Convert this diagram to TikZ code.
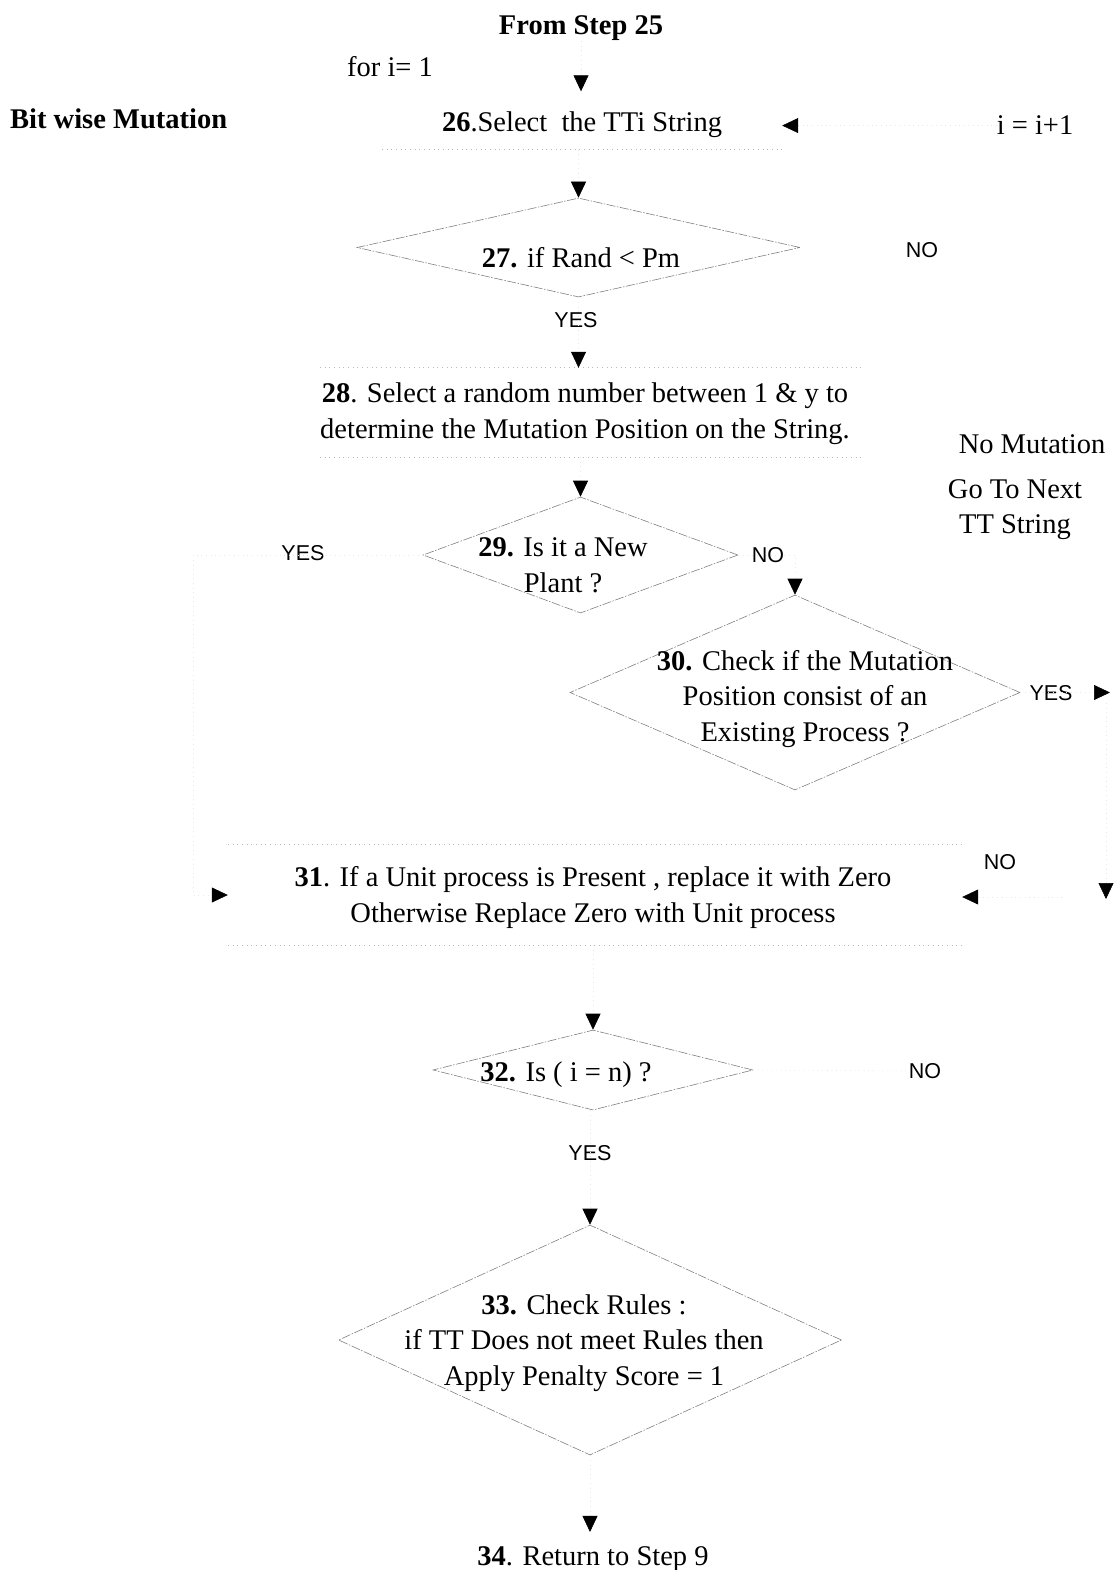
\documentclass[tikz,border=0pt]{standalone}
\usepackage{fontspec}
\setmainfont{Liberation Serif}
\newfontfamily\labelfont{Liberation Sans}
\usetikzlibrary{shapes.geometric,arrows.meta}
\begin{document}
\begin{tikzpicture}[x=1pt,y=-1pt,
  txt/.style={font=\fontsize{28.5}{35.5}\selectfont, inner sep=0pt, align=center},
  yn/.style={font=\labelfont\fontsize{21.5}{24}\selectfont, inner sep=0pt},
  box/.style={rectangle, inner sep=0pt},
  edge/.style={draw=black!28, loosely dotted, line width=0.7pt},
  decision/.style={diamond, draw=black!50, line width=0.6pt,
    dash pattern=on 9pt off 1.5pt on 1.5pt off 1.5pt, inner sep=0pt},
  link/.style={draw=black!9, loosely dotted, line width=0.6pt,
    -{Triangle[length=16pt,width=15pt,color=black]}},
  route/.style={draw=black!14, loosely dotted, line width=0.6pt}
]
\useasboundingbox (0,0) rectangle (1114,1570);

% headings
\node[txt, anchor=base] (from) at (581,35) {\bfseries From Step 25};
\node[txt, anchor=base] (init) at (390,77) {for i= 1};
\node[txt, anchor=base west] (title) at (10,129) {\bfseries Bit wise Mutation};
\node[txt, anchor=base] (iinc) at (1035,135) {i = i+1};

% process boxes (outlines only faintly visible)
\node[box, minimum width=400pt, minimum height=58pt] (b26) at (582,120.5) {};
\node[txt, anchor=base] (t26) at (582,132) {\textbf{26}.Select \ the TTi String};

\node[box, minimum width=542pt, minimum height=89pt] (b28) at (591,412.5) {};
\node[txt] (t28) at (585,413.5) {\textbf{28}. Select a random number between 1 \& y to\\determine the Mutation Position on the String.};

\node[box, minimum width=734pt, minimum height=100pt] (b31) at (595,895) {};
\node[txt] (t31) at (593,897.5) {\textbf{31}. If a Unit process is Present , replace it with Zero\\Otherwise Replace Zero with Unit process};

% decisions
\node[decision, minimum width=443pt, minimum height=99pt] (d27) at (578.5,247.5) {};
\node[txt, anchor=base] (t27) at (581,267) {\textbf{27.} if Rand < Pm};

\node[decision, minimum width=315pt, minimum height=116pt] (d29) at (580.5,555) {};
\node[txt] (t29) at (563,565.5) {\textbf{29.} Is it a New\\Plant ?};

\node[decision, minimum width=450pt, minimum height=195pt] (d30) at (795,692.5) {};
\node[txt] (t30) at (805,699) {\textbf{30.} Check if the Mutation\\Position consist of an\\Existing Process ?};

\node[decision, minimum width=320pt, minimum height=80pt] (d32) at (593,1070) {};
\node[txt, anchor=base] (t32) at (566,1081) {\textbf{32.} Is ( i = n) ?};

\node[decision, minimum width=503pt, minimum height=230pt] (d33) at (590,1340) {};
\node[txt] (t33) at (584,1343) {\textbf{33.} Check Rules :\\if TT Does not meet Rules then\\Apply Penalty Score = 1};

\node[txt, anchor=base] (end) at (593,1565) {\textbf{34}. Return to Step 9};

% side notes
\node[txt, anchor=base] (nomut) at (1032,453) {No Mutation};
\node[txt] (next) at (1015,509.5) {Go To Next\\TT String};

% branch labels
\node[yn] (no27) at (922,250) {NO};
\node[yn] (yes27) at (576,320) {YES};
\node[yn] (yes29) at (303,553) {YES};
\node[yn] (no29) at (768,555) {NO};
\node[yn] (yes30) at (1051,693) {YES};
\node[yn] (no30) at (1000,862) {NO};
\node[yn] (no32) at (925,1071) {NO};
\node[yn] (yes32) at (590,1153) {YES};

% faint remains of box outlines
\draw[edge] (b26.south west) -- (b26.south east);
\draw[edge] (b28.north west) -- (b28.north east);
\draw[edge] (b28.south west) -- (b28.south east);
\draw[edge] (b31.north west) -- (b31.north east);
\draw[edge] (b31.south west) -- (b31.south east);

% helper points for the side routes
\coordinate (endTop) at ([yshift=14pt]end.north);
\coordinate (yesR) at (1110,692.5);
\coordinate (rTop) at (1106,703);
\coordinate (rDown) at (1106,899);
\coordinate (noIn) at (1062,897);
\coordinate (lcorner) at (193,555);

% connectors
\draw[link] (from.south) -- (from.south |- b26.north);
\draw[link] (d27.north |- b26.south) -- (d27.north);
\draw[link] (d27.south) -- (d27.south |- b28.north);
\draw[link] (d29.north |- b28.south) -- (d29.north);
\draw[link] (d29.east) -| (d30.north);
\draw[link] (d30.east) -- (yesR);
\draw[link] (rTop) -- (rDown);
\draw[link] (noIn) -- (noIn -| b31.east);
\draw[link] (d29.west) -- (lcorner) |- (b31.west);
\draw[link] (d32.north |- b31.south) -- (d32.north);
\draw[link] (d33.north |- d32.south) -- (d33.north);
\draw[link] (d33.south) -- (d33.south |- endTop);
\draw[link] (iinc.west) -- (iinc.west -| b26.east);
\draw[route] (d32.east) -- (no32.west);
\end{tikzpicture}
\end{document}
